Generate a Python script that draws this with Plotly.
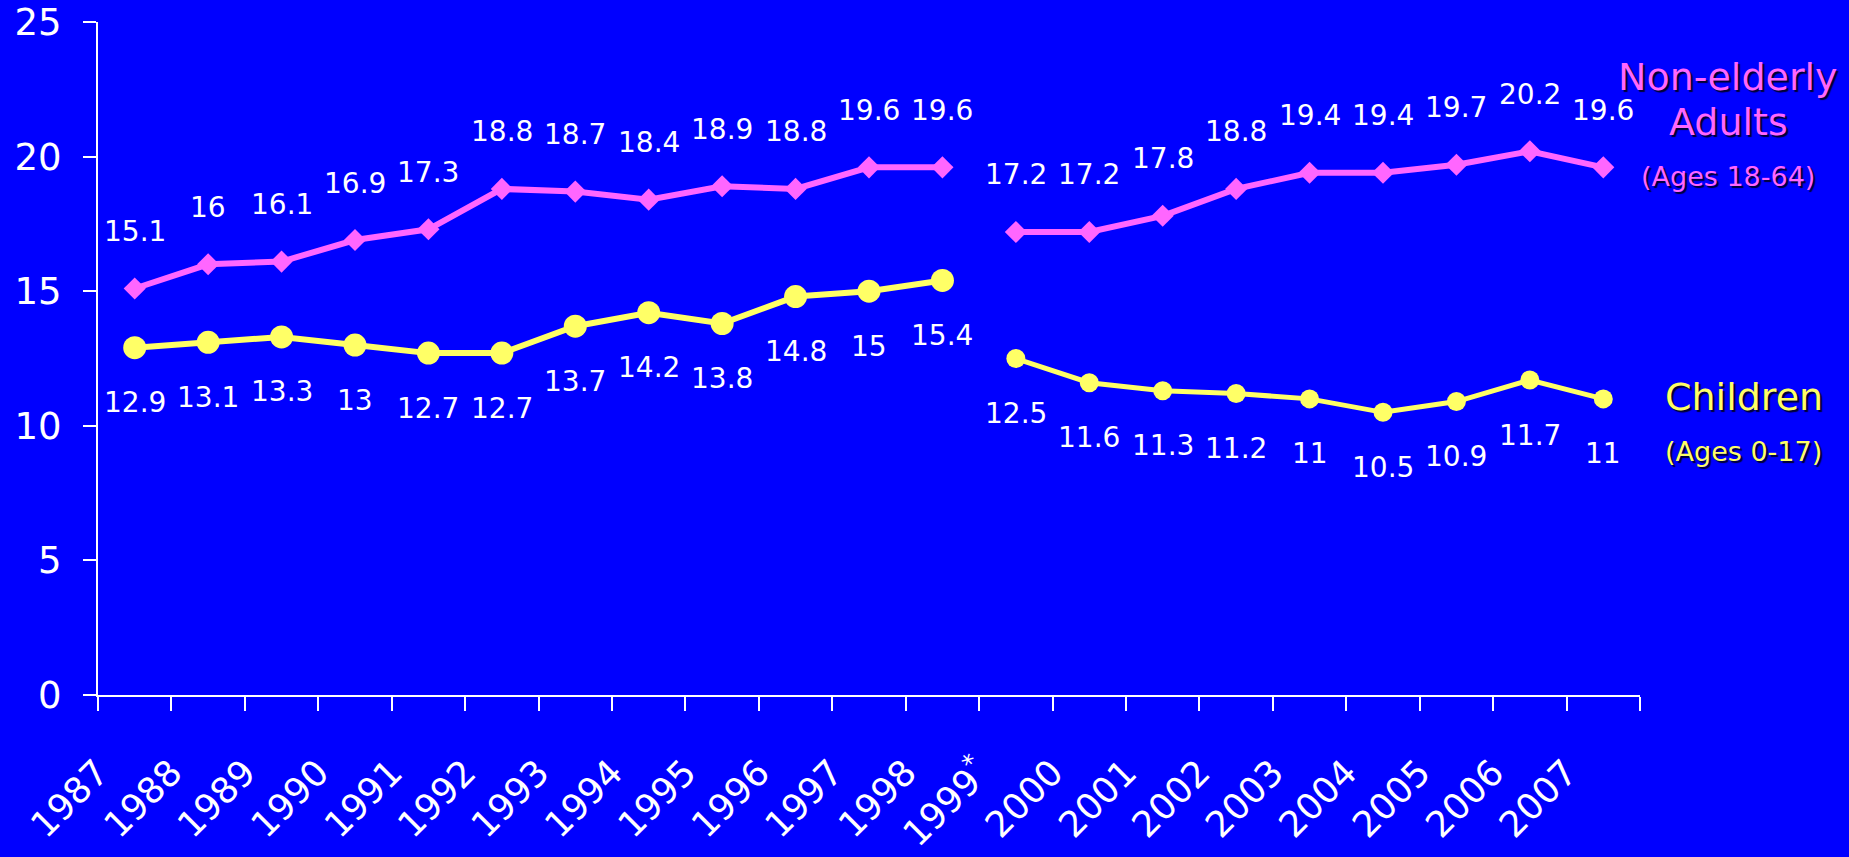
import plotly.graph_objects as go

# ---- data ----
years = ["1987", "1988", "1989", "1990", "1991", "1992", "1993", "1994", "1995", "1996",
         "1997", "1998", "1999<sup>*</sup>", "2000", "2001", "2002", "2003", "2004", "2005",
         "2006", "2007"]
adults = [15.1, 16, 16.1, 16.9, 17.3, 18.8, 18.7, 18.4, 18.9, 18.8, 19.6, 19.6,
          17.2, 17.2, 17.8, 18.8, 19.4, 19.4, 19.7, 20.2, 19.6]
children = [12.9, 13.1, 13.3, 13, 12.7, 12.7, 13.7, 14.2, 13.8, 14.8, 15, 15.4,
            12.5, 11.6, 11.3, 11.2, 11, 10.5, 10.9, 11.7, 11]
break_index = 12  # series break between 1998 and 1999*
y_ticks = [0, 5, 10, 15, 20, 25]

# ---- styles ----
BG = "#0000FF"
PINK = "#FF66FF"
YELLOW = "#FFFF66"
FONT = "DejaVu Sans"

xpos = [i + 0.5 for i in range(len(years))]

fig = go.Figure()

segments = [(0, break_index), (break_index, len(years))]
for k, (a, b) in enumerate(segments):
    fig.add_trace(go.Scatter(
        x=xpos[a:b], y=adults[a:b], mode="lines+markers",
        line=dict(color=PINK, width=6),
        marker=dict(symbol="diamond", size=17, color=PINK),
        showlegend=False, hoverinfo="skip"))
    fig.add_trace(go.Scatter(
        x=xpos[a:b], y=children[a:b], mode="lines+markers",
        line=dict(color=YELLOW, width=6 if k == 0 else 5),
        marker=dict(symbol="circle", size=23 if k == 0 else 19, color=YELLOW),
        showlegend=False, hoverinfo="skip"))

annotations = []
for x, v in zip(xpos, adults):
    annotations.append(dict(x=x, y=v, text=f"{v:g}", showarrow=False, yshift=57,
                            font=dict(family=FONT, size=28, color="white")))
for x, v in zip(xpos, children):
    annotations.append(dict(x=x, y=v, text=f"{v:g}", showarrow=False, yshift=-55,
                            font=dict(family=FONT, size=28, color="white")))

shadow = "2px 2px 1px #000033"
def side_label(text, x, y, size, color):
    return dict(xref="paper", yref="paper", x=x, y=y, text=text, showarrow=False,
                xanchor="center", yanchor="middle",
                font=dict(family=FONT, size=size, color=color, shadow=shadow))

annotations += [
    side_label("Non-elderly", 1.0571, 0.9183, 38, PINK),
    side_label("Adults", 1.0577, 0.8514, 38, PINK),
    side_label("(Ages 18-64)", 1.0571, 0.7697, 27, PINK),
    side_label("Children", 1.0674, 0.4428, 38, YELLOW),
    side_label("(Ages 0-17)", 1.0674, 0.3611, 27, YELLOW),
]

fig.update_layout(
    width=1849, height=857,
    paper_bgcolor=BG, plot_bgcolor=BG,
    margin=dict(l=98, r=209, t=22, b=162),
    annotations=annotations,
    font=dict(family=FONT, color="white"),
    xaxis=dict(
        range=[0, len(years)],
        tickmode="array",
        tickvals=list(range(len(years) + 1)),
        ticktext=years + [""],
        tickangle=-45,
        ticks="outside", ticklen=14, tickwidth=2, tickcolor="white",
        showline=True, linecolor="white", linewidth=2,
        showgrid=False, zeroline=False,
        tickfont=dict(family=FONT, size=36, color="white"),
        ticklabelstandoff=26,
        ticklabeloverflow="allow",
        automargin=False,
    ),
    yaxis=dict(
        range=[0, 25],
        tickmode="array", tickvals=y_ticks,
        ticks="outside", ticklen=13, tickwidth=2, tickcolor="white",
        showline=True, linecolor="white", linewidth=2,
        showgrid=False, zeroline=False,
        tickfont=dict(family=FONT, size=37, color="white"),
        ticklabelstandoff=14,
        ticklabeloverflow="allow",
        automargin=False,
    ),
)

fig.write_html(
    "out.html",
    config={"displayModeBar": False},
    post_script="document.body.style.margin='0';"
                "document.body.style.overflow='hidden';"
                "document.body.style.background='#0000FF';"
                "document.documentElement.style.background='#0000FF';",
)
